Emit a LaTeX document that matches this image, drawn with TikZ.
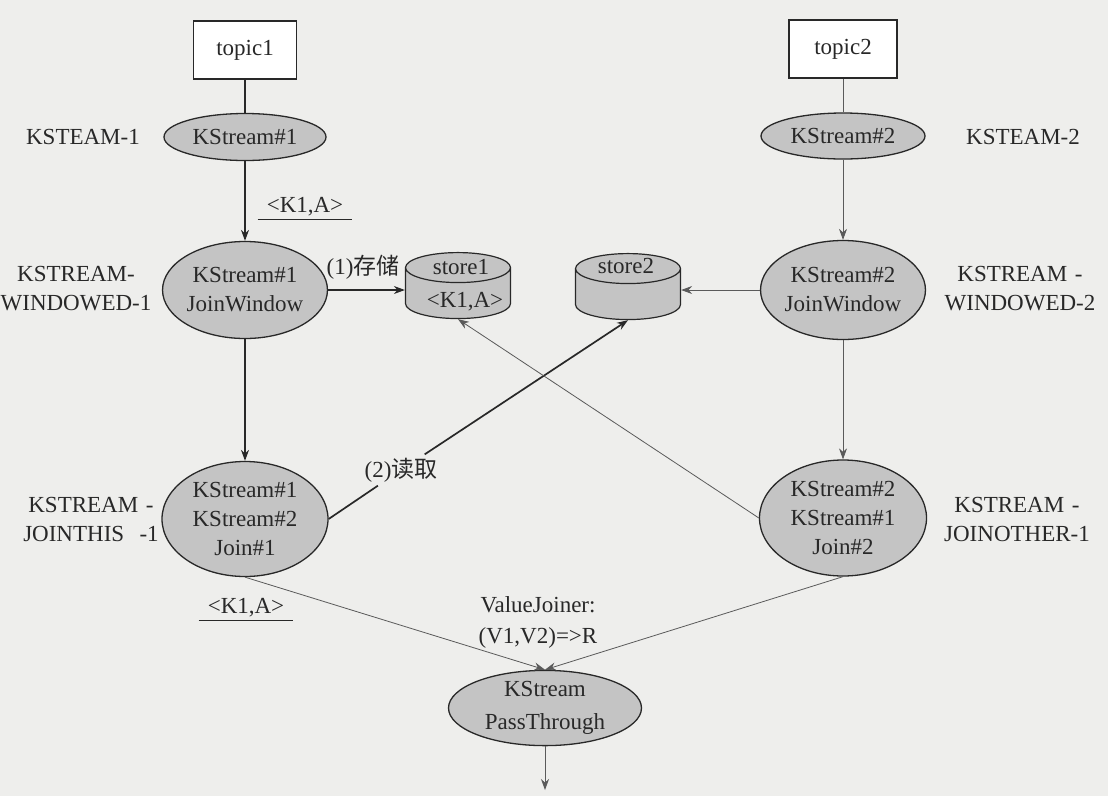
\documentclass[tikz,border=0pt]{standalone}
\usepackage{fontspec}
\setmainfont{Liberation Serif}
\newfontfamily\cjk{Noto Sans CJK SC}
\usetikzlibrary{shapes.geometric,arrows.meta}
\definecolor{bgcol}{RGB}{238,238,236}
\definecolor{ink}{RGB}{40,40,40}
\definecolor{thinink}{RGB}{90,90,90}
\definecolor{nodegray}{RGB}{196,196,196}
\tikzset{
  stream/.style={ellipse,draw=ink,fill=nodegray,line width=1.3pt,inner sep=0pt,align=center,text=ink},
  topicbox/.style={rectangle,draw=ink,fill=white,line width=1.2pt,minimum width=103pt,minimum height=58pt,text=ink},
  storecyl/.style={cylinder,shape border rotate=90,aspect=4.5,draw=ink,fill=nodegray,line width=1.2pt,minimum width=105pt,minimum height=66pt},
  nametag/.style={align=center,text=ink},
  kv/.style={inner xsep=9pt,inner ysep=3pt,text=ink},
  flow/.style={->,draw=ink,line width=1.3pt},
  thinflow/.style={->,draw=thinink,line width=0.8pt}
}
\begin{document}
\begin{tikzpicture}[x=1pt,y=-1pt,font=\fontsize{23}{29}\selectfont,>={Stealth[length=11pt,width=8pt]}]
\fill[bgcol] (0,0) rectangle (1108,796);
\useasboundingbox (0,0) rectangle (1108,796);
% left branch
\node[topicbox] (topic1) at (245,50) {topic1};
\node[stream,minimum width=162pt,minimum height=47pt] (ks1) at (245,137) {KStream\#1};
\node[stream,minimum width=162pt,minimum height=97pt] (jw1) at (245,290) {KStream\#1\\JoinWindow};
\node[stream,minimum width=166pt,minimum height=115pt] (join1) at (245,519) {KStream\#1\\KStream\#2\\Join\#1};
% right branch
\node[topicbox,minimum width=108pt] (topic2) at (843,49) {topic2};
\node[stream,minimum width=164pt,minimum height=46pt] (ks2) at (843,136) {KStream\#2};
\node[stream,minimum width=164pt,minimum height=99pt] (jw2) at (843,290) {KStream\#2\\JoinWindow};
\node[stream,minimum width=167pt,minimum height=116pt] (join2) at (843,518) {KStream\#2\\KStream\#1\\Join\#2};
% stores
\node[storecyl] (store1) at (458,296) {};
\node[nametag] (s1name) at (461,267) {store1};
\node[nametag] (s1kv) at (465,302) {<K1,A>};
\node[storecyl] (store2) at (628,297) {};
\node[nametag] (s2name) at (626,266) {store2};
% join result
\node[stream,minimum width=193pt,minimum height=72pt] (pass) at (545,708) {KStream\\[4pt]PassThrough};
\coordinate (out) at (545,790);
% processor names
\node[nametag] (n1) at (83,137) {KSTEAM-1};
\node[nametag] (n2) at (1023,137) {KSTEAM-2};
\node[nametag,text width=160pt] (n3) at (76,289) {KSTREAM-\\WINDOWED-1};
\node[nametag,text width=160pt] (n4) at (1020,289) {KSTREAM -\\WINDOWED-2};
\node[nametag,text width=160pt] (n5) at (91,519) {KSTREAM -\\JOINTHIS\ \ -1};
\node[nametag,text width=160pt] (n6) at (1017,519) {KSTREAM -\\JOINOTHER-1};
% edge texts
\node[nametag] (save) at (363,267) {(1)\cjk 存储};
\node[nametag] (rd) at (401,470) {(2)\cjk 读取};
\node[kv] (kv1) at (305,207) {<K1,A>};
\draw[ink,line width=1pt] (kv1.south west) -- (kv1.south east);
\node[kv] (kv2) at (246,608) {<K1,A>};
\draw[ink,line width=1pt] (kv2.south west) -- (kv2.south east);
\node[nametag] (vj) at (538,622) {ValueJoiner:\\[2pt](V1,V2)=>R};
% connectors
\draw[ink,line width=1.3pt] (topic1) -- (ks1);
\draw[flow] (ks1) -- (jw1);
\draw[flow] (jw1) -- (join1);
\draw[thinink,line width=0.8pt] (topic2) -- (ks2);
\draw[thinflow] (ks2) -- (jw2);
\draw[thinflow] (jw2) -- (join2);
\draw[flow] (jw1.east) -- (store1.west |- jw1.east);
\draw[thinflow,line width=1pt] (jw2.west) -- (store2.east |- jw2.west);
\draw[flow,line width=1.7pt] (join1.east) -- (rd) -- (store2.south);
\draw[thinflow] (join2.west) -- (store1.south);
\draw[thinflow] (join1.south) -- (pass.north);
\draw[thinflow] (join2.south) -- (pass.north);
\draw[thinflow] (pass) -- (out);
\end{tikzpicture}
\end{document}
